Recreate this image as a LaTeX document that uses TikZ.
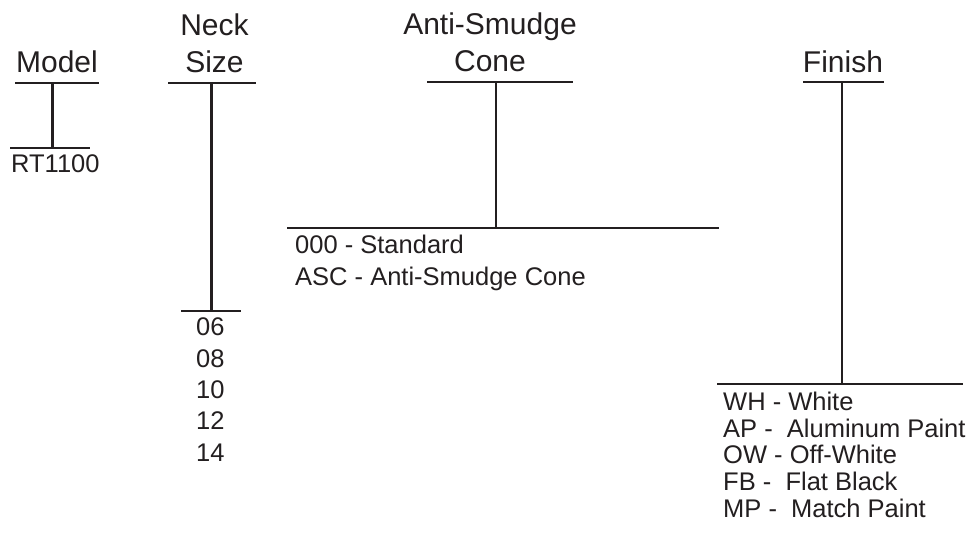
\documentclass[tikz,border=0pt]{standalone}
\usepackage{fontspec}
\setmainfont{Liberation Sans}
\usepackage{xcolor}
\definecolor{inkblack}{RGB}{35, 31, 32}
\definecolor{white}{RGB}{255, 255, 255}

\begin{document}
\begin{tikzpicture}[x=1pt,y=-1pt,
        heading/.style={text=inkblack,inner sep=0pt,anchor=south,align=center,font=\fontsize{30}{37}\selectfont},
        choices/.style={text=inkblack,inner sep=0pt,anchor=north west,align=left},
        bar/.style={draw=inkblack,line width=2.6pt}]
        \useasboundingbox[fill=white] (0,0) rectangle (972,542);

        % model
        \node[heading] (model) at (57,73) {Model};
        \coordinate (modeltop) at (52.7,83);
        \coordinate (modelbot) at (52.7,148);
        \draw[bar] (15,83) -- (99,83);
        \draw[bar] (modeltop) -- (modelbot);
        \draw[bar] (10,148) -- (90,148);
        \node[choices,font=\fontsize{25.5}{31}\selectfont] (modellist) at (11,154.5) {RT1100};

        % neck size
        \node[heading] (neck) at (214.5,73) {Neck\\Size};
        \coordinate (necktop) at (211.7,83);
        \coordinate (neckbot) at (211.7,311);
        \draw[bar] (168,83) -- (256,83);
        \draw[bar] (necktop) -- (neckbot);
        \draw[bar] (181,311) -- (241,311);
        \node[choices,font=\fontsize{25.5}{31.4}\selectfont] (necklist) at (196,317.7) {06\\08\\10\\12\\14};

        % anti-smudge cone
        \node[heading] (cone) at (490,72) {Anti-Smudge\\Cone};
        \coordinate (conetop) at (496,82);
        \coordinate (conebot) at (496,228);
        \draw[bar] (427,82) -- (573,82);
        \draw[bar] (conetop) -- (conebot);
        \draw[bar] (287,228) -- (719,228);
        \node[choices,font=\fontsize{25.5}{31.7}\selectfont] (conelist) at (295,234.7) {000 - Standard\\ASC - Anti-Smudge Cone};

        % finish
        \node[heading] (finish) at (843,73) {Finish};
        \coordinate (finishtop) at (842,82);
        \coordinate (finishbot) at (842,384);
        \draw[bar] (803,82) -- (884,82);
        \draw[bar] (finishtop) -- (finishbot);
        \draw[bar] (717,384) -- (963,384);
        \node[choices,font=\fontsize{25.5}{26.8}\selectfont] (finishlist) at (723,391.7) {WH - White\\AP - \ Aluminum Paint\\OW - Off-White\\FB - \ Flat Black\\MP - \ Match Paint};
    \end{tikzpicture}
\end{document}
